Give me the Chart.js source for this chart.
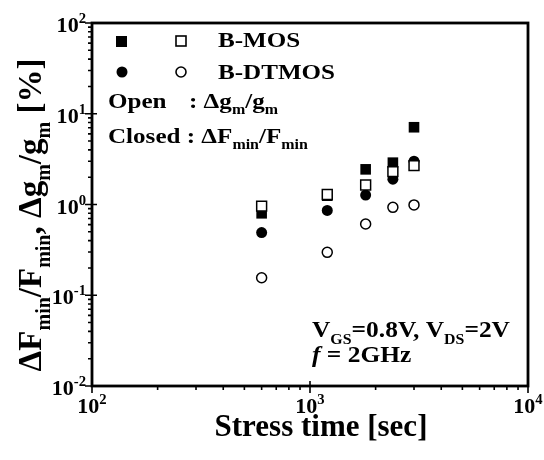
<!DOCTYPE html>
<html lang="en">
<head>
<meta charset="UTF-8">
<title>Stress time degradation</title>
<script src="https://cdn.jsdelivr.net/npm/chart.js"></script>
<style>
    body { margin: 0; background: #fff; }
    #wrap { width: 544px; height: 460px; }
</style>
</head>
<body>
<div id="wrap">
    <canvas id="chart" width="544" height="460"></canvas>
</div>

<script>
    // stress time [sec]
    var stressTime = [600, 1200, 1800, 2400, 3000];
    // B-MOS: closed = dFmin/Fmin, open = dgm/gm  [%]
    var bmosFmin = [0.80, 1.25, 2.44, 2.89, 7.1];
    var bmosGm = [0.96, 1.29, 1.64, 2.3, 2.68];
    // B-DTMOS
    var dtmosFmin = [0.49, 0.86, 1.27, 1.90, 3.0];
    var dtmosGm = [0.156, 0.297, 0.61, 0.93, 0.99];

    var xDecades = [2, 3, 4];
    var yDecades = [-2, -1, 0, 1, 2];

    var SERIF = '"Liberation Serif", "Times New Roman", serif';

    function pts(ys) {
        return stressTime.map(function (t, i) { return { x: t, y: ys[i] }; });
    }

    function setFont(ctx, r) {
        ctx.font = (r.italic ? 'italic ' : '') + 'bold ' + r.size + 'px ' + SERIF;
    }
    // draw a list of text runs, each {t, size, dy, italic}; sx stretches horizontally
    function drawRuns(ctx, runs, x, y, sx) {
        sx = sx || 1;
        runs.forEach(function (r) {
            setFont(ctx, r);
            ctx.save();
            ctx.translate(x, y + (r.dy || 0));
            ctx.scale(sx, 1);
            ctx.fillText(r.t, 0, 0);
            ctx.restore();
            x += ctx.measureText(r.t).width * sx;
        });
        return x;
    }
    function runsWidth(ctx, runs, sx) {
        var w = 0;
        runs.forEach(function (r) {
            setFont(ctx, r);
            w += ctx.measureText(r.t).width;
        });
        return w * (sx || 1);
    }
    function pow10(n) {
        return [{ t: '10', size: 21 }, { t: String(n), size: 14, dy: -9 }];
    }

    var framePlugin = {
        id: 'frame',
        afterDraw: function (chart) {
            var ctx = chart.ctx;
            var a = chart.chartArea;
            var xs = chart.scales.x, ys = chart.scales.y;
            ctx.save();
            ctx.fillStyle = '#000';
            ctx.strokeStyle = '#000';
            ctx.textAlign = 'left';
            ctx.textBaseline = 'alphabetic';

            // frame
            ctx.lineWidth = 2.8;
            ctx.strokeRect(a.left, a.top, a.right - a.left, a.bottom - a.top);

            // ticks
            ctx.lineWidth = 1.6;
            ctx.beginPath();
            for (var d = 2; d < 4; d++) {
                for (var k = 1; k < 10; k++) {
                    var px = xs.getPixelForValue(k * Math.pow(10, d));
                    ctx.moveTo(px, a.bottom + (k === 1 ? -5 : 0));
                    ctx.lineTo(px, a.bottom + (k === 1 ? 7 : 4));
                }
            }
            ctx.moveTo(a.right, a.bottom - 5); ctx.lineTo(a.right, a.bottom + 7);
            for (var e = -2; e < 2; e++) {
                for (var m = 1; m < 10; m++) {
                    var py = ys.getPixelForValue(m * Math.pow(10, e));
                    ctx.moveTo(a.left + (m === 1 ? 5 : 0), py);
                    ctx.lineTo(a.left - (m === 1 ? 7 : 4), py);
                }
            }
            ctx.moveTo(a.left + 5, a.top); ctx.lineTo(a.left - 7, a.top);
            ctx.stroke();

            // tick labels
            xDecades.forEach(function (n) {
                var runs = pow10(n);
                var px = xs.getPixelForValue(Math.pow(10, n));
                drawRuns(ctx, runs, px - runsWidth(ctx, runs, 1.05) / 2, a.bottom + 27, 1.05);
            });
            yDecades.forEach(function (n) {
                var runs = pow10(n);
                var py = ys.getPixelForValue(Math.pow(10, n));
                drawRuns(ctx, runs, a.left - 6 - runsWidth(ctx, runs, 1.05), py + 9, 1.05);
            });

            // axis titles
            var xt = [{ t: 'Stress time [sec]', size: 31 }];
            drawRuns(ctx, xt, 321 - runsWidth(ctx, xt) / 2, 436);

            var yt = [
                { t: '\u0394F', size: 33 }, { t: 'min', size: 20, dy: 9 },
                { t: '/F', size: 33 }, { t: 'min', size: 20, dy: 9 },
                { t: ', \u0394g', size: 33 }, { t: 'm', size: 20, dy: 9 },
                { t: '/g', size: 33 }, { t: 'm', size: 20, dy: 9 },
                { t: ' [%]', size: 33 }
            ];
            ctx.save();
            ctx.translate(41, 215);
            ctx.rotate(-Math.PI / 2);
            drawRuns(ctx, yt, -runsWidth(ctx, yt) / 2, 0);
            ctx.restore();

            // legend
            ctx.lineWidth = 1.6;
            ctx.fillRect(116, 36, 11, 11);
            ctx.strokeRect(176, 36, 10, 10);
            ctx.beginPath(); ctx.arc(122, 72, 5.5, 0, 2 * Math.PI); ctx.fill();
            ctx.beginPath(); ctx.arc(181, 72, 5, 0, 2 * Math.PI); ctx.stroke();
            drawRuns(ctx, [{ t: 'B-MOS', size: 22 }], 218, 47, 1.14);
            drawRuns(ctx, [{ t: 'B-DTMOS', size: 22 }], 218, 79, 1.14);

            drawRuns(ctx, [{ t: 'Open', size: 22 }], 108, 108, 1.14);
            drawRuns(ctx, [
                { t: ': \u0394g', size: 22 }, { t: 'm', size: 14, dy: 6 },
                { t: '/g', size: 22 }, { t: 'm', size: 14, dy: 6 }
            ], 189, 108, 1.14);
            drawRuns(ctx, [
                { t: 'Closed : \u0394F', size: 22 }, { t: 'min', size: 14, dy: 6 },
                { t: '/F', size: 22 }, { t: 'min', size: 14, dy: 6 }
            ], 108, 143, 1.14);

            // conditions
            drawRuns(ctx, [
                { t: 'V', size: 24 }, { t: 'GS', size: 15, dy: 7 },
                { t: '=0.8V, V', size: 24 }, { t: 'DS', size: 15, dy: 7 },
                { t: '=2V', size: 24 }
            ], 312, 337, 1.06);
            drawRuns(ctx, [
                { t: 'f', size: 24, italic: true }, { t: ' = 2GHz', size: 24 }
            ], 312, 362, 1.06);

            ctx.restore();
        }
    };

    var ctx = document.getElementById('chart').getContext('2d');
    var chart = new Chart(ctx, {
        type: 'scatter',
        data: {
            datasets: [{
                label: 'B-MOS dgm/gm',
                data: pts(bmosGm),
                pointStyle: 'rect',
                pointRadius: 7,
                backgroundColor: '#fff',
                borderColor: '#000',
                borderWidth: 1.5
            }, {
                label: 'B-DTMOS dgm/gm',
                data: pts(dtmosGm),
                pointStyle: 'circle',
                pointRadius: 5,
                backgroundColor: '#fff',
                borderColor: '#000',
                borderWidth: 1.5
            }, {
                label: 'B-MOS dFmin/Fmin',
                data: pts(bmosFmin),
                pointStyle: 'rect',
                pointRadius: 7.5,
                backgroundColor: '#000',
                borderColor: '#000',
                borderWidth: 0
            }, {
                label: 'B-DTMOS dFmin/Fmin',
                data: pts(dtmosFmin),
                pointStyle: 'circle',
                pointRadius: 5.5,
                backgroundColor: '#000',
                borderColor: '#000',
                borderWidth: 0
            }]
        },
        options: {
            responsive: false,
            animation: false,
            layout: { padding: { left: 92, right: 16, top: 23, bottom: 74 } },
            plugins: {
                legend: { display: false },
                tooltip: { enabled: false }
            },
            scales: {
                x: { type: 'logarithmic', min: 100, max: 10000, display: false },
                y: { type: 'logarithmic', min: 0.01, max: 100, display: false }
            }
        },
        plugins: [framePlugin]
    });
</script>
</body>
</html>
